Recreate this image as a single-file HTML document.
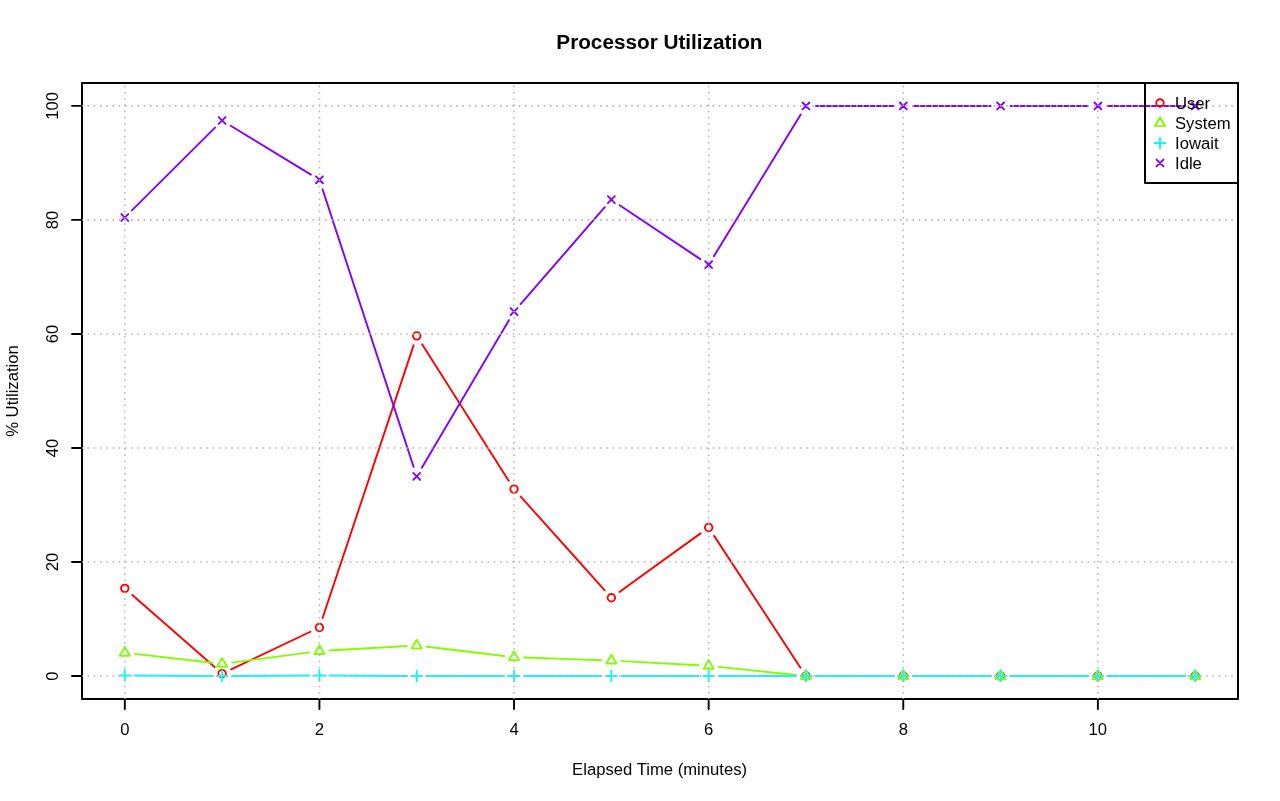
<!DOCTYPE html>
<html><head><meta charset="utf-8"><title>Processor Utilization</title>
<style>html,body{margin:0;padding:0;background:#fff;overflow:hidden}body{width:1280px;height:801px;font-family:"Liberation Sans",sans-serif}</style>
</head><body>
<svg width="1280" height="801" viewBox="0 0 1280 801" style="display:block;font-family:'Liberation Sans',sans-serif">
<rect width="1280" height="801" fill="#fff"/>
<g opacity="0.999">
<path d="M132.33 594.95L214.60 667.06M231.16 669.37L310.39 631.76M322.59 617.98L413.57 345.35M422.10 344.31L508.68 480.64M520.71 496.53L604.68 590.31M619.45 591.91L700.55 533.37M714.13 535.88L800.48 667.69M815.96 676.05L893.27 676.05M913.27 676.05L990.57 676.05M1010.57 676.05L1087.88 676.05M1107.88 676.05L1185.19 676.05" fill="none" stroke="#FF0000" stroke-width="1.9" stroke-linecap="round"/>
<circle cx="124.81" cy="588.35" r="3.75" fill="none" stroke="#FF0000" stroke-width="1.9"/>
<circle cx="222.12" cy="673.66" r="3.75" fill="none" stroke="#FF0000" stroke-width="1.9"/>
<circle cx="319.43" cy="627.47" r="3.75" fill="none" stroke="#FF0000" stroke-width="1.9"/>
<circle cx="416.73" cy="335.87" r="3.75" fill="none" stroke="#FF0000" stroke-width="1.9"/>
<circle cx="514.04" cy="489.08" r="3.75" fill="none" stroke="#FF0000" stroke-width="1.9"/>
<circle cx="611.35" cy="597.76" r="3.75" fill="none" stroke="#FF0000" stroke-width="1.9"/>
<circle cx="708.65" cy="527.51" r="3.75" fill="none" stroke="#FF0000" stroke-width="1.9"/>
<circle cx="805.96" cy="676.05" r="3.75" fill="none" stroke="#FF0000" stroke-width="1.9"/>
<circle cx="903.27" cy="676.05" r="3.75" fill="none" stroke="#FF0000" stroke-width="1.9"/>
<circle cx="1000.57" cy="676.05" r="3.75" fill="none" stroke="#FF0000" stroke-width="1.9"/>
<circle cx="1097.88" cy="676.05" r="3.75" fill="none" stroke="#FF0000" stroke-width="1.9"/>
<circle cx="1195.19" cy="676.05" r="3.75" fill="none" stroke="#FF0000" stroke-width="1.9"/>
<path d="M134.75 653.92L212.19 662.77M232.04 662.60L309.51 652.38M329.41 650.50L406.75 646.06M426.66 646.69L504.11 656.03M524.03 657.57L601.35 660.20M621.33 661.08L698.67 665.25M718.60 666.84L796.01 675.00M815.96 676.05L893.27 676.05M913.27 676.05L990.57 676.05M1010.57 676.05L1087.88 676.05M1107.88 676.05L1185.19 676.05" fill="none" stroke="#80FF00" stroke-width="1.9" stroke-linecap="round"/>
<path d="M124.81 646.95L129.87 655.70L119.76 655.70Z" fill="none" stroke="#80FF00" stroke-width="1.9" stroke-linejoin="round"/>
<path d="M222.12 658.07L227.17 666.82L217.07 666.82Z" fill="none" stroke="#80FF00" stroke-width="1.9" stroke-linejoin="round"/>
<path d="M319.43 645.24L324.48 653.99L314.38 653.99Z" fill="none" stroke="#80FF00" stroke-width="1.9" stroke-linejoin="round"/>
<path d="M416.73 639.66L421.78 648.40L411.68 648.40Z" fill="none" stroke="#80FF00" stroke-width="1.9" stroke-linejoin="round"/>
<path d="M514.04 651.40L519.09 660.15L508.99 660.15Z" fill="none" stroke="#80FF00" stroke-width="1.9" stroke-linejoin="round"/>
<path d="M611.35 654.71L616.40 663.46L606.30 663.46Z" fill="none" stroke="#80FF00" stroke-width="1.9" stroke-linejoin="round"/>
<path d="M708.65 659.95L713.70 668.70L703.60 668.70Z" fill="none" stroke="#80FF00" stroke-width="1.9" stroke-linejoin="round"/>
<path d="M805.96 670.22L811.01 678.97L800.91 678.97Z" fill="none" stroke="#80FF00" stroke-width="1.9" stroke-linejoin="round"/>
<path d="M903.27 670.22L908.32 678.97L898.22 678.97Z" fill="none" stroke="#80FF00" stroke-width="1.9" stroke-linejoin="round"/>
<path d="M1000.57 670.22L1005.62 678.97L995.52 678.97Z" fill="none" stroke="#80FF00" stroke-width="1.9" stroke-linejoin="round"/>
<path d="M1097.88 670.22L1102.93 678.97L1092.83 678.97Z" fill="none" stroke="#80FF00" stroke-width="1.9" stroke-linejoin="round"/>
<path d="M1195.19 670.22L1200.24 678.97L1190.13 678.97Z" fill="none" stroke="#80FF00" stroke-width="1.9" stroke-linejoin="round"/>
<path d="M134.81 675.54L212.12 675.99M232.12 675.99L309.43 675.54M329.43 675.54L406.73 675.99M426.73 676.05L504.04 676.05M524.04 676.05L601.35 676.05M621.35 676.05L698.65 676.05M718.65 676.05L795.96 676.05M815.96 676.05L893.27 676.05M913.27 676.05L990.57 676.05M1010.57 676.05L1087.88 676.05M1107.88 676.05L1185.19 676.05" fill="none" stroke="#00FFFF" stroke-width="1.9" stroke-linecap="round"/>
<path d="M119.51 675.48L130.12 675.48M124.81 670.18L124.81 680.78" fill="none" stroke="#00FFFF" stroke-width="1.9" stroke-linecap="round"/>
<path d="M216.82 676.05L227.42 676.05M222.12 670.75L222.12 681.35" fill="none" stroke="#00FFFF" stroke-width="1.9" stroke-linecap="round"/>
<path d="M314.12 675.48L324.73 675.48M319.43 670.18L319.43 680.78" fill="none" stroke="#00FFFF" stroke-width="1.9" stroke-linecap="round"/>
<path d="M411.43 676.05L422.04 676.05M416.73 670.75L416.73 681.35" fill="none" stroke="#00FFFF" stroke-width="1.9" stroke-linecap="round"/>
<path d="M508.74 676.05L519.34 676.05M514.04 670.75L514.04 681.35" fill="none" stroke="#00FFFF" stroke-width="1.9" stroke-linecap="round"/>
<path d="M606.04 676.05L616.65 676.05M611.35 670.75L611.35 681.35" fill="none" stroke="#00FFFF" stroke-width="1.9" stroke-linecap="round"/>
<path d="M703.35 676.05L713.96 676.05M708.65 670.75L708.65 681.35" fill="none" stroke="#00FFFF" stroke-width="1.9" stroke-linecap="round"/>
<path d="M800.66 676.05L811.26 676.05M805.96 670.75L805.96 681.35" fill="none" stroke="#00FFFF" stroke-width="1.9" stroke-linecap="round"/>
<path d="M897.96 676.05L908.57 676.05M903.27 670.75L903.27 681.35" fill="none" stroke="#00FFFF" stroke-width="1.9" stroke-linecap="round"/>
<path d="M995.27 676.05L1005.88 676.05M1000.57 670.75L1000.57 681.35" fill="none" stroke="#00FFFF" stroke-width="1.9" stroke-linecap="round"/>
<path d="M1092.58 676.05L1103.18 676.05M1097.88 670.75L1097.88 681.35" fill="none" stroke="#00FFFF" stroke-width="1.9" stroke-linecap="round"/>
<path d="M1189.88 676.05L1200.49 676.05M1195.19 670.75L1195.19 681.35" fill="none" stroke="#00FFFF" stroke-width="1.9" stroke-linecap="round"/>
<path d="M131.90 210.44L215.04 127.56M230.66 125.71L310.89 174.60M322.55 189.31L413.62 466.86M421.82 467.76L508.96 320.19M520.60 304.03L604.79 207.19M619.66 205.21L700.34 259.15M713.88 256.18L800.73 114.49M815.96 105.96L893.27 105.96M913.27 105.96L990.57 105.96M1010.57 105.96L1087.88 105.96M1107.88 105.96L1185.19 105.96" fill="none" stroke="#8000FF" stroke-width="1.9" stroke-linecap="round"/>
<path d="M121.36 214.05L128.26 220.95M121.36 220.95L128.26 214.05" fill="none" stroke="#8000FF" stroke-width="1.9" stroke-linecap="round"/>
<path d="M218.67 117.05L225.57 123.95M218.67 123.95L225.57 117.05" fill="none" stroke="#8000FF" stroke-width="1.9" stroke-linecap="round"/>
<path d="M315.98 176.35L322.88 183.25M315.98 183.25L322.88 176.35" fill="none" stroke="#8000FF" stroke-width="1.9" stroke-linecap="round"/>
<path d="M413.28 472.92L420.18 479.82M413.28 479.82L420.18 472.92" fill="none" stroke="#8000FF" stroke-width="1.9" stroke-linecap="round"/>
<path d="M510.59 308.13L517.49 315.03M510.59 315.03L517.49 308.13" fill="none" stroke="#8000FF" stroke-width="1.9" stroke-linecap="round"/>
<path d="M607.90 196.20L614.80 203.10M607.90 203.10L614.80 196.20" fill="none" stroke="#8000FF" stroke-width="1.9" stroke-linecap="round"/>
<path d="M705.20 261.26L712.10 268.16M705.20 268.16L712.10 261.26" fill="none" stroke="#8000FF" stroke-width="1.9" stroke-linecap="round"/>
<path d="M802.51 102.51L809.41 109.41M802.51 109.41L809.41 102.51" fill="none" stroke="#8000FF" stroke-width="1.9" stroke-linecap="round"/>
<path d="M899.82 102.51L906.72 109.41M899.82 109.41L906.72 102.51" fill="none" stroke="#8000FF" stroke-width="1.9" stroke-linecap="round"/>
<path d="M997.12 102.51L1004.02 109.41M997.12 109.41L1004.02 102.51" fill="none" stroke="#8000FF" stroke-width="1.9" stroke-linecap="round"/>
<path d="M1094.43 102.51L1101.33 109.41M1094.43 109.41L1101.33 102.51" fill="none" stroke="#8000FF" stroke-width="1.9" stroke-linecap="round"/>
<path d="M1191.74 102.51L1198.64 109.41M1191.74 109.41L1198.64 102.51" fill="none" stroke="#8000FF" stroke-width="1.9" stroke-linecap="round"/>
<rect x="82.0" y="83.0" width="1156.0" height="616.0" fill="none" stroke="#000" stroke-width="2.0" stroke-linejoin="round"/>
<path d="M124.81 699.0V709.0M319.43 699.0V709.0M514.04 699.0V709.0M708.65 699.0V709.0M903.27 699.0V709.0M1097.88 699.0V709.0M124.81 699.0H1097.88M82.0 676.05H72.0M82.0 562.01H72.0M82.0 447.97H72.0M82.0 333.93H72.0M82.0 219.89H72.0M82.0 105.85H72.0M82.0 676.05V105.85" fill="none" stroke="#000" stroke-width="1.9" stroke-linecap="round"/>
<path d="M124.81 699.0V82.0M319.43 699.0V82.0M514.04 699.0V82.0M708.65 699.0V82.0M903.27 699.0V82.0M1097.88 699.0V82.0M82.0 676.05H1235.0M82.0 562.01H1235.0M82.0 447.97H1235.0M82.0 333.93H1235.0M82.0 219.89H1235.0M82.0 105.85H1235.0" fill="none" stroke="#b4b4b4" stroke-width="1.5625" stroke-dasharray="1.5625 4.6875" stroke-dashoffset="0.78125"/>
<text x="124.81" y="735" font-size="16.67" text-anchor="middle">0</text>
<text x="319.43" y="735" font-size="16.67" text-anchor="middle">2</text>
<text x="514.04" y="735" font-size="16.67" text-anchor="middle">4</text>
<text x="708.65" y="735" font-size="16.67" text-anchor="middle">6</text>
<text x="903.27" y="735" font-size="16.67" text-anchor="middle">8</text>
<text x="1097.88" y="735" font-size="16.67" text-anchor="middle">10</text>
<text transform="translate(58.2 676.05) rotate(-90)" font-size="16.67" text-anchor="middle">0</text>
<text transform="translate(58.2 562.01) rotate(-90)" font-size="16.67" text-anchor="middle">20</text>
<text transform="translate(58.2 447.97) rotate(-90)" font-size="16.67" text-anchor="middle">40</text>
<text transform="translate(58.2 333.93) rotate(-90)" font-size="16.67" text-anchor="middle">60</text>
<text transform="translate(58.2 219.89) rotate(-90)" font-size="16.67" text-anchor="middle">80</text>
<text transform="translate(58.2 105.85) rotate(-90)" font-size="16.67" text-anchor="middle">100</text>
<text x="659.6" y="775" font-size="16.67" text-anchor="middle">Elapsed Time (minutes)</text>
<text transform="translate(18 391) rotate(-90)" font-size="16.67" text-anchor="middle">% Utilization</text>
<text transform="translate(659.4 48.9) scale(1.037 1.05)" font-size="20" font-weight="bold" text-anchor="middle">Processor Utilization</text>
<rect x="1145.0" y="83.0" width="93.0" height="100.0" fill="none" stroke="#000" stroke-width="2.0" stroke-linejoin="round"/>
<circle cx="1160.00" cy="103.00" r="3.75" fill="none" stroke="#FF0000" stroke-width="1.9"/>
<text x="1175" y="108.7" font-size="16.67">User</text>
<path d="M1160.00 117.17L1165.05 125.92L1154.95 125.92Z" fill="none" stroke="#80FF00" stroke-width="1.9" stroke-linejoin="round"/>
<text x="1175" y="128.7" font-size="16.67">System</text>
<path d="M1154.70 143.00L1165.30 143.00M1160.00 137.70L1160.00 148.30" fill="none" stroke="#00FFFF" stroke-width="1.9" stroke-linecap="round"/>
<text x="1175" y="148.7" font-size="16.67">Iowait</text>
<path d="M1156.55 159.55L1163.45 166.45M1156.55 166.45L1163.45 159.55" fill="none" stroke="#8000FF" stroke-width="1.9" stroke-linecap="round"/>
<text x="1175" y="168.7" font-size="16.67">Idle</text>
</g>
</svg>
</body></html>
